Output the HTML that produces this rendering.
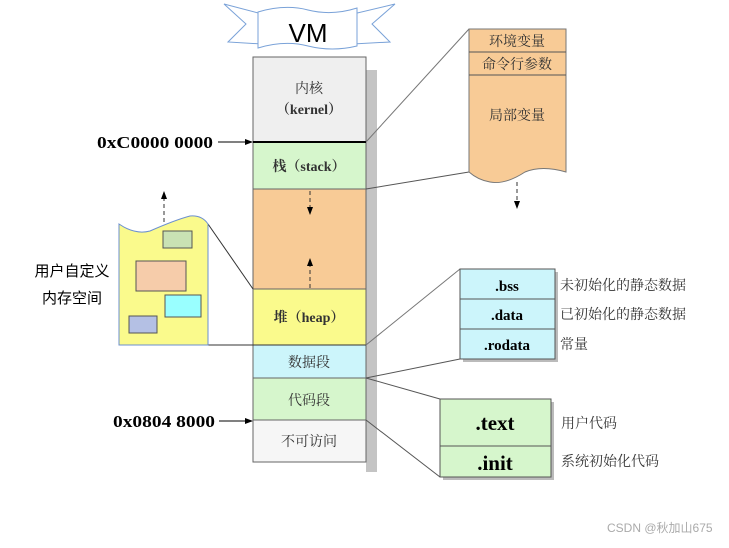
<!DOCTYPE html>
<html><head><meta charset="utf-8"><style>
body{margin:0;background:#fff;}
svg text{font-family:"Liberation Serif","Noto Serif CJK SC",serif;}
.s{font-family:"Liberation Sans","Noto Sans CJK SC",sans-serif !important;}
</style></head><body>
<svg width="729" height="543" viewBox="0 0 729 543" xmlns="http://www.w3.org/2000/svg">
<defs>
<marker id="a" markerWidth="8" markerHeight="8" refX="7" refY="4" orient="auto"><path d="M0,1 L8,4 L0,7z" fill="#000"/></marker>
</defs>
<path d="M224,4 L262,14 L262,44 L228,42 L246,24z" fill="#fff" stroke="#7aa2d8"/>
<path d="M395,4 L353,14 L353,44 L390,42 L372,24z" fill="#fff" stroke="#7aa2d8"/>
<path d="M258,12 Q285,4 308,10 Q332,16 357,8 L357,46 Q332,52 308,46 Q285,40 258,48z" fill="#fff" stroke="#7aa2d8"/>
<text x="308" y="42" text-anchor="middle" font-size="26" class="s">VM</text>
<rect x="366" y="70" width="11" height="402" fill="#c4c4c4"/>
<rect x="253" y="57" width="113" height="85" fill="#efefef" stroke="#666"/>
<rect x="253" y="142" width="113" height="47" fill="#d6f6cc" stroke="#666"/>
<rect x="253" y="189" width="113" height="100" fill="#f8cb96" stroke="#666"/>
<rect x="253" y="289" width="113" height="56" fill="#fafa8c" stroke="#666"/>
<rect x="253" y="345" width="113" height="33" fill="#ccf5fb" stroke="#666"/>
<rect x="253" y="378" width="113" height="42" fill="#d6f6cc" stroke="#666"/>
<rect x="253" y="420" width="113" height="42" fill="#f6f6f6" stroke="#666"/>
<line x1="253" y1="142" x2="366" y2="142" stroke="#000" stroke-width="2"/>
<text x="309" y="93" text-anchor="middle" font-size="14" fill="#333">内核</text>
<text x="309" y="114" text-anchor="middle" font-size="14" font-weight="bold" fill="#333">（kernel）</text>
<text x="309" y="171" text-anchor="middle" font-size="14" font-weight="bold" fill="#333">栈（stack）</text>
<text x="309" y="322" text-anchor="middle" font-size="14" font-weight="bold" fill="#333">堆（heap）</text>
<text x="309" y="367" text-anchor="middle" font-size="14" fill="#333">数据段</text>
<text x="309" y="405" text-anchor="middle" font-size="14" fill="#333">代码段</text>
<text x="309" y="446" text-anchor="middle" font-size="14" fill="#333">不可访问</text>
<line x1="310" y1="191" x2="310" y2="214" stroke="#333" stroke-dasharray="4,3" marker-end="url(#a)"/>
<line x1="310" y1="288" x2="310" y2="259" stroke="#333" stroke-dasharray="4,3" marker-end="url(#a)"/>
<text x="97" y="148" font-size="17" font-weight="bold" textLength="116" lengthAdjust="spacingAndGlyphs">0xC0000 0000</text>
<line x1="218" y1="142" x2="252" y2="142" stroke="#000" marker-end="url(#a)"/>
<text x="113" y="427" font-size="17" font-weight="bold" textLength="102" lengthAdjust="spacingAndGlyphs">0x0804 8000</text>
<line x1="219" y1="421" x2="252" y2="421" stroke="#000" marker-end="url(#a)"/>
<line x1="366" y1="142" x2="469" y2="29" stroke="#777"/>
<line x1="366" y1="189" x2="469" y2="172" stroke="#555"/>
<path d="M469,29 L566,29 L566,172 Q542,165 525,172 Q505,185 490,182 Q478,180 469,172z" fill="#f8cb96" stroke="#777"/>
<line x1="469" y1="52" x2="566" y2="52" stroke="#555"/>
<line x1="469" y1="75" x2="566" y2="75" stroke="#555"/>
<text x="517" y="46" text-anchor="middle" font-size="14" fill="#333">环境变量</text>
<text x="517" y="69" text-anchor="middle" font-size="14" fill="#333">命令行参数</text>
<text x="517" y="120" text-anchor="middle" font-size="14" fill="#333">局部变量</text>
<line x1="517" y1="182" x2="517" y2="208" stroke="#333" stroke-dasharray="4,3" marker-end="url(#a)"/>
<line x1="208" y1="224" x2="253" y2="289" stroke="#333"/>
<line x1="208" y1="345" x2="366" y2="345" stroke="#333"/>
<path d="M119,224 Q135,235 150,231 Q175,220 190,216 Q202,215 208,224 L208,345 L119,345z" fill="#fafa8c" stroke="#6b8fd0"/>
<rect x="163" y="231" width="29" height="17" fill="#c9e2b4" stroke="#555"/>
<rect x="136" y="261" width="50" height="30" fill="#f6ccaa" stroke="#555"/>
<rect x="165" y="295" width="36" height="22" fill="#99ffff" stroke="#555"/>
<rect x="129" y="316" width="28" height="17" fill="#b4c0e4" stroke="#555"/>
<line x1="164" y1="222" x2="164" y2="192" stroke="#333" stroke-dasharray="4,3" marker-end="url(#a)"/>
<text x="72" y="276" text-anchor="middle" font-size="15" class="s">用户自定义</text>
<text x="72" y="303" text-anchor="middle" font-size="15" class="s">内存空间</text>
<line x1="366" y1="345" x2="460" y2="269" stroke="#777"/>
<line x1="366" y1="378" x2="460" y2="359" stroke="#555"/>
<rect x="463" y="272" width="95" height="90" fill="#bbb"/>
<rect x="460" y="269" width="95" height="90" fill="#ccf5fb" stroke="#555"/>
<line x1="460" y1="299" x2="555" y2="299" stroke="#555"/>
<line x1="460" y1="329" x2="555" y2="329" stroke="#555"/>
<text x="507" y="291" text-anchor="middle" font-size="15" font-weight="bold">.bss</text>
<text x="507" y="320" text-anchor="middle" font-size="15" font-weight="bold">.data</text>
<text x="507" y="350" text-anchor="middle" font-size="15" font-weight="bold">.rodata</text>
<text x="560" y="290" font-size="14" fill="#333">未初始化的静态数据</text>
<text x="560" y="319" font-size="14" fill="#333">已初始化的静态数据</text>
<text x="560" y="349" font-size="14" fill="#333">常量</text>
<line x1="366" y1="378" x2="440" y2="399" stroke="#555"/>
<line x1="366" y1="420" x2="440" y2="477" stroke="#555"/>
<rect x="443" y="402" width="111" height="78" fill="#bbb"/>
<rect x="440" y="399" width="111" height="78" fill="#d6f6cc" stroke="#555"/>
<line x1="440" y1="446" x2="551" y2="446" stroke="#555"/>
<text x="495" y="430" text-anchor="middle" font-size="21" font-weight="bold">.text</text>
<text x="495" y="470" text-anchor="middle" font-size="21" font-weight="bold">.init</text>
<text x="561" y="428" font-size="14" fill="#333">用户代码</text>
<text x="561" y="466" font-size="14" fill="#333">系统初始化代码</text>
<text x="607" y="532" font-size="12" fill="#aaa" class="s">CSDN @秋加山675</text>
</svg>
</body></html>
